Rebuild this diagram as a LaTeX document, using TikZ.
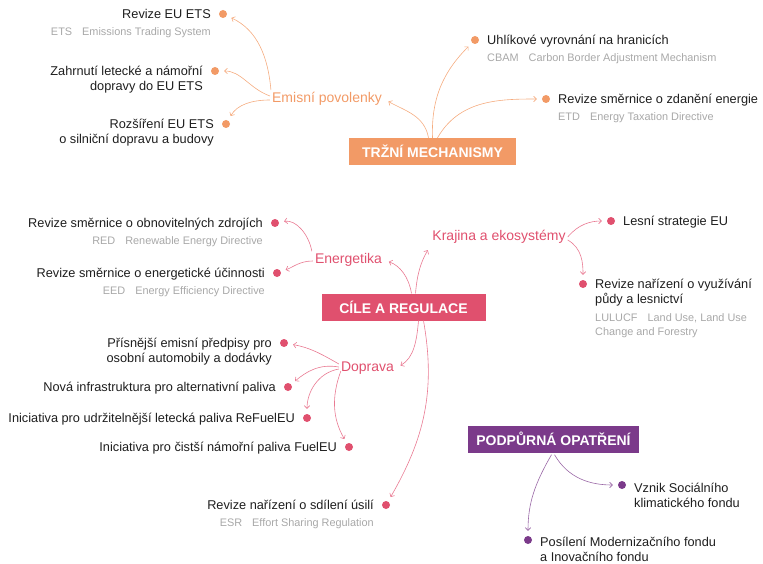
\documentclass[tikz,border=0pt]{standalone}
\usepackage{fontspec}
\setmainfont{Liberation Sans}
\usetikzlibrary{arrows.meta,positioning}

% Colours of the three groups
\definecolor{trh}{HTML}{F29A66}
\definecolor{trhline}{HTML}{F5AC80}
\definecolor{cil}{HTML}{E0506E}
\definecolor{cilline}{HTML}{E97A92}
\definecolor{podp}{HTML}{7B3A8A}
\definecolor{podpline}{HTML}{9A68A6}
\definecolor{sub}{HTML}{A8A8A8}
\definecolor{ink}{HTML}{1E1E1E}

\begin{document}
\begin{tikzpicture}[x=1pt,y=-1pt,>=Straight Barb,
  hlavni/.style={fill=#1, text=white, font=\bfseries\fontsize{14}{16}\selectfont, minimum height=27pt, inner sep=0pt},
  vetev/.style={text=#1, font=\fontsize{14}{16}\selectfont, inner sep=2pt},
  tecka/.style={circle, fill=#1, inner sep=0pt, minimum size=8pt},
  polozka/.style={text=ink, font=\fontsize{12.75}{15.5}\selectfont, inner sep=0pt},
  zkratka/.style={text=sub, font=\fontsize{10.9}{14}\selectfont, inner sep=0pt},
  vlevo/.style={anchor=base east, xshift=-12pt, yshift=-4.4pt, align=right},
  vpravo/.style={anchor=base west, xshift=12pt, yshift=-4.4pt, align=left},
  % two-line texts: base is the last line
  vlevodva/.style={vlevo, yshift=-15.5pt},
  vpravodva/.style={vpravo, yshift=-15.5pt},
  sip/.style={draw=#1, line width=0.6pt, -{Straight Barb[length=2.8pt,width=5.5pt]}, shorten >=5pt}]
  \useasboundingbox (0,0) rectangle (763,564);

  % Trzni mechanismy
  \node[hlavni=trh, minimum width=167pt] (trh) at (432.5,151.5) {TRŽNÍ MECHANISMY};
  \node[vetev=trh] (emise) at (327,99) {Emisní povolenky};

  \node[tecka=trh] (etsdot) at (223,14) {};
  \node[polozka, vlevo] (etstxt) at (etsdot) {Revize EU ETS};
  \node[zkratka, anchor=base east] at ([yshift=-17.5pt]etstxt.base east) {ETS\hspace{10pt}Emissions Trading System};

  \node[tecka=trh] (zahrdot) at (215,71) {};
  \node[polozka, vlevodva] (zahrtxt) at (zahrdot) {Zahrnutí letecké a námořní\\dopravy do EU ETS};

  \node[tecka=trh] (rozsdot) at (226,124) {};
  \node[polozka, vlevodva] (rozstxt) at (rozsdot) {Rozšíření EU ETS\\o silniční dopravu a budovy};

  \node[tecka=trh] (cbamdot) at (475,40) {};
  \node[polozka, vpravo] (cbamtxt) at (cbamdot) {Uhlíkové vyrovnání na hranicích};
  \node[zkratka, anchor=base west] at ([yshift=-17.5pt]cbamtxt.base west) {CBAM\hspace{10pt}Carbon Border Adjustment Mechanism};

  \node[tecka=trh] (etddot) at (546,99) {};
  \node[polozka, vpravo] (etdtxt) at (etddot) {Revize směrnice o zdanění energie};
  \node[zkratka, anchor=base west] at ([yshift=-17.5pt]etdtxt.base west) {ETD\hspace{10pt}Energy Taxation Directive};

  \draw[sip=trhline] ([xshift=1pt]emise.north west) to[out=95,in=-25] (etsdot);
  \draw[sip=trhline] ([yshift=3pt]emise.west) to[out=160,in=0] (zahrdot);
  \draw[sip=trhline] ([yshift=-1pt]emise.west) to[out=180,in=60] (rozsdot);
  \draw[sip=trhline] ([xshift=-4pt]trh.north) to[out=100,in=-30] (emise.east);
  \draw[sip=trhline] (trh.north) to[out=92,in=-135] (cbamdot);
  \draw[sip=trhline] ([xshift=5pt]trh.north) to[out=60,in=180] (etddot);

  % Cile a regulace
  \node[hlavni=cil, minimum width=164pt] (cil) at (403.5,307) {CÍLE A REGULACE};
  \node[vetev=cil] (energ) at (348.5,260) {Energetika};
  \node[vetev=cil] (krajina) at (499,237) {Krajina a ekosystémy};
  \node[vetev=cil] (doprava) at (367.5,368) {Doprava};

  \node[tecka=cil] (reddot) at (275,223) {};
  \node[polozka, vlevo] (redtxt) at (reddot) {Revize směrnice o obnovitelných zdrojích};
  \node[zkratka, anchor=base east] at ([yshift=-17.5pt]redtxt.base east) {RED\hspace{10pt}Renewable Energy Directive};

  \node[tecka=cil] (eeddot) at (277,273) {};
  \node[polozka, vlevo] (eedtxt) at (eeddot) {Revize směrnice o energetické účinnosti};
  \node[zkratka, anchor=base east] at ([yshift=-17.5pt]eedtxt.base east) {EED\hspace{10pt}Energy Efficiency Directive};

  \node[tecka=cil] (lesdot) at (611,221) {};
  \node[polozka, vpravo] (lestxt) at (lesdot) {Lesní strategie EU};

  \node[tecka=cil] (lulucfdot) at (583,284) {};
  \node[polozka, vpravodva] (lulucftxt) at (lulucfdot) {Revize nařízení o využívání\\půdy a lesnictví};
  \node[zkratka, anchor=base west] at ([yshift=-17.5pt]lulucftxt.base west) {LULUCF\hspace{10pt}Land Use, Land Use};
  \node[zkratka, anchor=base west] at ([yshift=-32pt]lulucftxt.base west) {Change and Forestry};

  \node[tecka=cil] (osobdot) at (284,343) {};
  \node[polozka, vlevodva] (osobtxt) at (osobdot) {Přísnější emisní předpisy pro\\osobní automobily a dodávky};

  \node[tecka=cil] (infradot) at (288,387) {};
  \node[polozka, vlevo] (infratxt) at (infradot) {Nová infrastruktura pro alternativní paliva};

  \node[tecka=cil] (refueldot) at (307,418) {};
  \node[polozka, vlevo] (refueltxt) at (refueldot) {Iniciativa pro udržitelnější letecká paliva ReFuelEU};

  \node[tecka=cil] (fueldot) at (349,447) {};
  \node[polozka, vlevo] (fueltxt) at (fueldot) {Iniciativa pro čistší námořní paliva FuelEU};

  \node[tecka=cil] (esrdot) at (386,505) {};
  \node[polozka, vlevo] (esrtxt) at (esrdot) {Revize nařízení o sdílení úsilí};
  \node[zkratka, anchor=base east] at ([yshift=-17.5pt]esrtxt.base east) {ESR\hspace{10pt}Effort Sharing Regulation};

  \draw[sip=cilline] ([xshift=8pt]cil.north) to[out=100,in=-20] (energ.east);
  \draw[sip=cilline] ([xshift=12pt]cil.north) to[out=85,in=-120] (krajina.south west);
  \draw[sip=cilline] ([xshift=-1pt]energ.north west) to[out=100,in=10] (reddot);
  \draw[sip=cilline] ([yshift=-1pt]energ.west) to[out=180,in=20] (eeddot);
  \draw[sip=cilline] (krajina.east) to[out=50,in=180] (lesdot);
  \draw[sip=cilline] ([yshift=-3pt]krajina.east) to[out=-30,in=90] (lulucfdot);
  \draw[sip=cilline] ([xshift=15pt]cil.south) to[out=-95,in=30] (doprava.east);
  \draw[sip=cilline] ([xshift=20pt]cil.south) to[out=-80,in=60] (esrdot);
  \draw[sip=cilline] ([yshift=4pt]doprava.west) to[out=150,in=-10] (osobdot);
  \draw[sip=cilline] ([yshift=1pt]doprava.west) to[out=170,in=40] (infradot);
  \draw[sip=cilline] ([yshift=-1pt]doprava.west) to[out=190,in=90] (refueldot);
  \draw[sip=cilline] ([xshift=2pt,yshift=-3pt]doprava.west) to[out=-110,in=120] (fueldot);

  % Podpurna opatreni
  \node[hlavni=podp, minimum width=171pt] (podp) at (553.5,439) {PODPŮRNÁ OPATŘENÍ};

  \node[tecka=podp] (vznikdot) at (622,485) {};
  \node[polozka, vpravodva, yshift=-3pt] (vzniktxt) at (vznikdot) {Vznik Sociálního\\klimatického fondu};

  \node[tecka=podp] (posildot) at (528,540) {};
  \node[polozka, vpravodva, yshift=-2pt] (posiltxt) at (posildot) {Posílení Modernizačního fondu\\a Inovačního fondu};

  \draw[sip=podpline] ([xshift=1pt,yshift=-2pt]podp.south) to[out=-60,in=180] (vznikdot);
  \draw[sip=podpline] ([xshift=-2pt,yshift=-2pt]podp.south) to[out=-120,in=90] (posildot);
\end{tikzpicture}
\end{document}
